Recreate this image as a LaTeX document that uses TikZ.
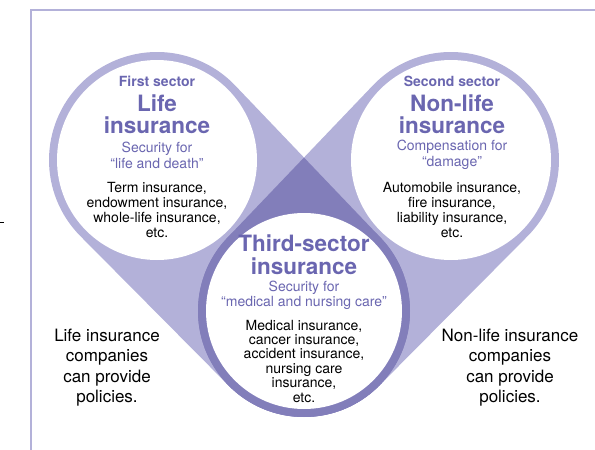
\documentclass[tikz,border=0pt]{standalone}
\usepackage{fontspec}
\setmainfont{TeX Gyre Heros}
\usetikzlibrary{calc}
\definecolor{lav}{HTML}{B3B1D9}
\definecolor{deep}{HTML}{827EBA}
\definecolor{ink}{HTML}{6A66B0}
\begin{document}
\begin{tikzpicture}[x=1pt,y=-1pt,
  sectorlbl/.style={font=\bfseries\fontsize{14}{14}\selectfont, text=ink, inner sep=0pt, align=center},
  titlelbl/.style={font=\bfseries\fontsize{22.5}{22}\selectfont, text=ink, inner sep=0pt, align=center},
  sublbl/.style={font=\fontsize{14}{16}\selectfont, text=ink, inner sep=0pt, align=center},
  bodylbl/.style={font=\fontsize{14}{15}\selectfont, text=black, inner sep=0pt, align=center},
  notelbl/.style={font=\fontsize{17}{20.4}\selectfont, text=black, inner sep=0pt, align=center}]
\useasboundingbox (0,0) rectangle (595,450);
\coordinate (L) at (157,160);
\coordinate (R) at (451,160);
\coordinate (B) at (304,311);
% frame
\draw[lav, line width=1.3pt] (31,450) -- (31,10) -- (595,10);
\draw[black, line width=0.8pt] (0,222.5) -- (3.5,222.5);
% hulls
\fill[lav] ($(L)+(-43.69:108)$) -- ($(B)+(-43.69:106)$) arc[start angle=-43.69, end angle=135.22, radius=106] -- ($(L)+(135.22:108)$) arc[start angle=135.22, end angle=316.31, radius=108] -- cycle;
\fill[lav] ($(R)+(223.69:108)$) -- ($(B)+(223.69:106)$) arc[start angle=223.69, end angle=44.78, radius=106] -- ($(R)+(44.78:108)$) arc[start angle=44.78, end angle=-136.31, radius=108] -- cycle;
\begin{scope}
\clip ($(L)+(-43.69:108)$) -- ($(B)+(-43.69:106)$) arc[start angle=-43.69, end angle=135.22, radius=106] -- ($(L)+(135.22:108)$) arc[start angle=135.22, end angle=316.31, radius=108] -- cycle;
\fill[deep] ($(R)+(223.69:108)$) -- ($(B)+(223.69:106)$) arc[start angle=223.69, end angle=44.78, radius=106] -- ($(R)+(44.78:108)$) arc[start angle=44.78, end angle=-136.31, radius=108] -- cycle;
\end{scope}
% circles
\fill[deep] (B) circle[radius=106];
\fill[white] (B) circle[radius=98];
\fill[white] (L) circle[radius=100];
\fill[white] (R) circle[radius=100];
% left circle text
\node[sectorlbl] (l1) at (157,81) {First sector};
\node[titlelbl] (l2) at (157,114) {Life\\insurance};
\node[sublbl] (l3) at (157,155) {Security for\\“life and death”};
\node[bodylbl] (l4) at (157,209.5) {Term insurance,\\endowment insurance,\\whole-life insurance,\\etc.};
% right circle text
\node[sectorlbl] (r1) at (452,81) {Second sector};
\node[titlelbl] (r2) at (452,114) {Non-life\\insurance};
\node[sublbl] (r3) at (452,155) {Compensation for\\“damage”};
\node[bodylbl] (r4) at (452,209.5) {Automobile insurance,\\fire insurance,\\liability insurance,\\etc.};
% third circle text
\node[titlelbl, font=\bfseries\fontsize{22.5}{23}\selectfont] (b2) at (304,254.5) {Third-sector\\insurance};
\node[sublbl, font=\fontsize{14}{15}\selectfont] (b3) at (304,295.5) {Security for\\“medical and nursing care”};
\node[bodylbl, font=\fontsize{14}{14.4}\selectfont] (b4) at (304,361) {Medical insurance,\\cancer insurance,\\accident insurance,\\nursing care\\insurance,\\etc.};
% notes
\node[notelbl] (n1) at (107,367.5) {Life insurance\\companies\\can provide\\policies.};
\node[notelbl] (n2) at (510,367.5) {Non-life insurance\\companies\\can provide\\policies.};
\end{tikzpicture}
\end{document}
